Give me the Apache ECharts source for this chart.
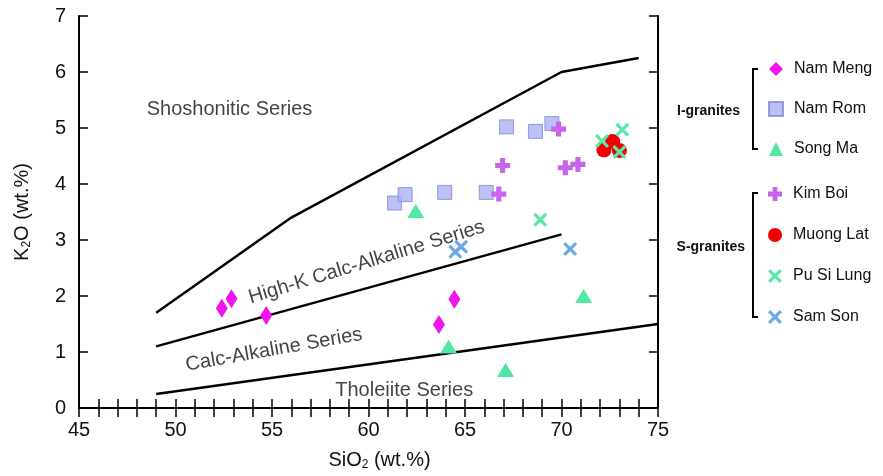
<!DOCTYPE html>
<html>
<head>
<meta charset="utf-8">
<script src="https://cdn.jsdelivr.net/npm/echarts@6/dist/echarts.min.js"></script>
<style>
  html, body { margin: 0; padding: 0; background: #fff; }
  #chart { width: 883px; height: 476px; }
</style>
</head>
<body>
<div id="chart"></div>
<script>
// sample points, [SiO2, K2O]
var namMeng = [[52.4, 1.78], [52.9, 1.95], [54.7, 1.65], [63.65, 1.49], [64.45, 1.94]]
var namRom = [[61.35, 3.66], [61.9, 3.81], [63.95, 3.85], [66.1, 3.85], [67.15, 5.02], [68.65, 4.94], [69.5, 5.08]]
var songMa = [[62.45, 3.52], [64.15, 1.1], [67.1, 0.68], [71.15, 2.0]]
var kimBoi = [[66.75, 3.82], [66.95, 4.33], [69.85, 4.98], [70.2, 4.29], [70.85, 4.35]]
var muongLat = [[72.2, 4.61], [72.65, 4.76], [73.0, 4.6]]
var puSiLung = [[68.9, 3.36], [72.1, 4.77], [73.15, 4.97], [73.0, 4.57]]
var samSon = [[64.5, 2.79], [64.8, 2.88], [70.45, 2.84]]

// series boundaries
var shoshoLine = [[49, 1.7], [56, 3.4], [70, 6.0], [74, 6.25]]
var highKLine = [[49, 1.1], [70, 3.1]]
var tholLine = [[49, 0.25], [75, 1.5]]

// field names
var fieldText = ['Shoshonitic Series', 'High-K Calc-Alkaline Series', 'Calc-Alkaline Series', 'Tholeiite Series']
var fieldX = [52.8, 59.9, 55.1, 61.85]
var fieldY = [5.33, 2.6, 1.04, 0.32]
var fieldRot = [0, 17, 10, 0]

var groupI = ['Nam Meng', 'Nam Rom', 'Song Ma']
var groupS = ['Kim Boi', 'Muong Lat', 'Pu Si Lung', 'Sam Son']

var font = '"Liberation Sans", Arial, sans-serif'
var ink = '#111'
var plus = 'path://M3.3,0 H6.7 V3.3 H10 V6.7 H6.7 V10 H3.3 V6.7 H0 V3.3 H3.3 Z'
var cross = 'path://M0,1.6 L1.6,0 L5,3.4 L8.4,0 L10,1.6 L6.6,5 L10,8.4 L8.4,10 L5,6.6 L1.6,10 L0,8.4 L3.4,5 Z'

var chart = echarts.init(document.getElementById('chart'))

function pts(name, data, symbol, size, color, extra) {
  var s = {
    name: name,
    type: 'scatter',
    data: data,
    symbol: symbol,
    symbolSize: size,
    itemStyle: { color: color, opacity: 1 },
    z: 5
  }
  return Object.assign(s, extra || {})
}

function boundary(data) {
  return {
    type: 'line',
    data: data,
    showSymbol: false,
    silent: true,
    lineStyle: { color: '#000', width: 2.5 },
    z: 3
  }
}

var fieldData = fieldText.map(function(t, i) {
  return { name: t, value: [fieldX[i], fieldY[i]], label: { rotate: fieldRot[i] } }
})

var legendBase = {
  orient: 'vertical',
  left: 763,
  itemWidth: 14,
  itemHeight: 14,
  textStyle: { fontFamily: font, fontSize: 16, color: ink, padding: [0, 0, 0, 6] }
}

var axisName = {
  t: { fontSize: 20, color: ink, fontFamily: font },
  s: { fontSize: 12, color: ink, fontFamily: font, padding: [9, 0, 0, 0] }
}

chart.setOption({
  animation: false,
  textStyle: { fontFamily: font },
  grid: { left: 79, top: 16, right: 225, bottom: 66 },
  legend: [
    Object.assign({ data: groupI, top: 56, itemGap: 24 }, legendBase),
    Object.assign({ data: groupS, top: 181, itemGap: 25 }, legendBase)
  ],
  xAxis: [
    {
      type: 'value',
      min: 45,
      max: 75,
      interval: 1,
      name: '{t|SiO}{s|2}{t| (wt.%)}',
      nameLocation: 'middle',
      nameGap: 42,
      nameTextStyle: { padding: [0, 0, 0, 22], rich: axisName },
      axisLine: { lineStyle: { color: '#000', width: 2 } },
      axisTick: { inside: true, length: 9, lineStyle: { color: '#000', width: 1.5 } },
      axisLabel: {
        margin: 12,
        fontSize: 20,
        color: ink,
        formatter: function(v) { return v % 5 === 0 ? v : '' }
      },
      splitLine: { show: false }
    },
    {
      type: 'value',
      position: 'top',
      min: 45,
      max: 75,
      interval: 1,
      axisLine: { lineStyle: { color: '#000', width: 2 } },
      axisTick: { inside: true, length: 9, lineStyle: { color: '#000', width: 1.5 } },
      axisLabel: { show: false },
      splitLine: { show: false }
    }
  ],
  yAxis: [
    {
      type: 'value',
      min: 0,
      max: 7,
      interval: 1,
      name: '{t|K}{s|2}{t|O (wt.%)}',
      nameLocation: 'middle',
      nameRotate: 90,
      nameGap: 46,
      nameTextStyle: { rich: axisName },
      axisLine: { lineStyle: { color: '#000', width: 2 } },
      axisTick: { inside: true, length: 9, lineStyle: { color: '#000', width: 1.5 } },
      axisLabel: { margin: 13, fontSize: 20, color: ink },
      splitLine: { show: false }
    },
    {
      type: 'value',
      position: 'right',
      min: 0,
      max: 7,
      interval: 1,
      axisLine: { lineStyle: { color: '#000', width: 2 } },
      axisTick: { inside: true, length: 9, lineStyle: { color: '#000', width: 1.5 } },
      axisLabel: { show: false },
      splitLine: { show: false }
    }
  ],
  graphic: [
    { type: 'polyline', shape: { points: [[758, 69], [753, 69], [753, 149], [758, 149]] }, style: { stroke: '#000', lineWidth: 2, fill: null } },
    { type: 'polyline', shape: { points: [[758, 193], [753, 193], [753, 317], [758, 317]] }, style: { stroke: '#000', lineWidth: 2, fill: null } },
    { type: 'text', x: 740, y: 111, style: { text: 'I-granites', font: 'bold 14px ' + font, fill: ink, align: 'right', verticalAlign: 'middle', textAlign: 'right', textVerticalAlign: 'middle' } },
    { type: 'text', x: 745, y: 247, style: { text: 'S-granites', font: 'bold 14px ' + font, fill: ink, align: 'right', verticalAlign: 'middle', textAlign: 'right', textVerticalAlign: 'middle' } }
  ],
  series: [
    boundary(shoshoLine),
    boundary(highKLine),
    boundary(tholLine),
    {
      type: 'scatter',
      data: fieldData,
      symbolSize: 0,
      silent: true,
      label: {
        show: true,
        position: 'inside',
        formatter: '{b}',
        fontSize: 20,
        color: ink,
        fontFamily: font
      },
      z: 4
    },
    pts('Nam Meng', namMeng, 'diamond', [12, 19], '#ee14ee'),
    pts('Nam Rom', namRom, 'rect', 14, '#aab0f2', { itemStyle: { color: '#aab0f2', borderColor: '#8288d0', borderWidth: 1 } }),
    pts('Song Ma', songMa, 'triangle', [17, 14], '#50e6a4'),
    pts('Kim Boi', kimBoi, plus, 15, '#c864ec'),
    pts('Muong Lat', muongLat, 'circle', 15, '#f00000'),
    pts('Pu Si Lung', puSiLung, cross, 14, '#5ae8a8'),
    pts('Sam Son', samSon, cross, 14, '#6aa8e6')
  ]
})
</script>
</body>
</html>
